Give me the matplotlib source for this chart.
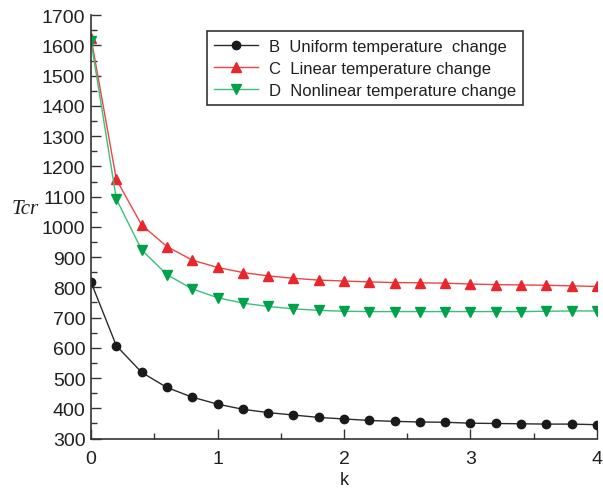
import matplotlib

matplotlib.use("Agg")
import matplotlib.pyplot as plt
from matplotlib.ticker import MultipleLocator

plt.rcParams["font.family"] = ["Liberation Sans", "DejaVu Sans"]

# ── data ─────────────────────────────────────────────────────────
k = [0.0, 0.2, 0.4, 0.6, 0.8, 1.0, 1.2, 1.4, 1.6, 1.8, 2.0,
     2.2, 2.4, 2.6, 2.8, 3.0, 3.2, 3.4, 3.6, 3.8, 4.0]
tcr_uniform = [817, 607, 519, 469, 437, 414, 397, 386, 378, 370, 365,
               360, 357, 355, 354, 351, 350, 349, 348, 348, 346]
tcr_linear = [1625, 1157, 1006, 935, 890, 866, 849, 838, 830, 824, 821,
              818, 816, 815, 814, 811, 809, 808, 807, 805, 803]
tcr_nonlinear = [1613, 1092, 924, 842, 795, 766, 748, 737, 729, 724, 721,
                 720, 720, 720, 720, 720, 720, 720, 721, 722, 722]

labels = ["B  Uniform temperature  change",
          "C  Linear temperature change",
          "D  Nonlinear temperature change"]

fig = plt.figure(figsize=(6.03, 4.89), dpi=100)
ax = fig.add_axes([0.151, 0.101, 0.839, 0.866])

ax.plot(k, tcr_uniform, color="#2b2b2b", linewidth=1.0, marker="o",
        markersize=6, markerfacecolor="#1a1a1a", markeredgecolor="#1a1a1a",
        label=labels[0])
ax.plot(k, tcr_linear, color="#ee4444", linewidth=1.0, marker="^",
        markersize=7.5, markerfacecolor="#e8262b", markeredgecolor="#e8262b",
        label=labels[1])
ax.plot(k, tcr_nonlinear, color="#3cbf78", linewidth=1.0, marker="v",
        markersize=7.5, markerfacecolor="#00a14b", markeredgecolor="#00a14b",
        label=labels[2])

ax.set_xlim(0, 4)
ax.set_ylim(300, 1700)
ax.xaxis.set_major_locator(MultipleLocator(1))
ax.xaxis.set_minor_locator(MultipleLocator(0.5))
ax.yaxis.set_major_locator(MultipleLocator(100))
ax.yaxis.set_minor_locator(MultipleLocator(50))

for side in ["top", "right"]:
    ax.spines[side].set_visible(False)
for side in ["left", "bottom"]:
    ax.spines[side].set_color("#333333")
    ax.spines[side].set_linewidth(1.2)

ax.tick_params(which="both", direction="in", colors="#333333",
               labelcolor="#231f20", labelsize=14)
ax.tick_params(which="major", length=7, width=1)
ax.tick_params(which="minor", length=4, width=1)
ax.tick_params(axis="x", pad=8)
ax.tick_params(axis="y", pad=4)

ax.set_xlabel("k", fontsize=13, color="#231f20", labelpad=3)
fig.text(0.02, 0.571, "Tcr", fontsize=15, fontstyle="italic",
         family=["Liberation Serif", "DejaVu Serif"], color="#231f20",
         ha="left", va="center")

leg = ax.legend(loc="upper left", bbox_to_anchor=(0.229, 0.962),
                borderaxespad=0, fontsize=12, fancybox=False,
                framealpha=1, edgecolor="#333333", handlelength=2.6,
                handletextpad=0.65, labelspacing=0.42, borderpad=0.45)
leg.get_frame().set_linewidth(1.2)
for t in leg.get_texts():
    t.set_color("#231f20")

fig.savefig("out.png", dpi=100)
